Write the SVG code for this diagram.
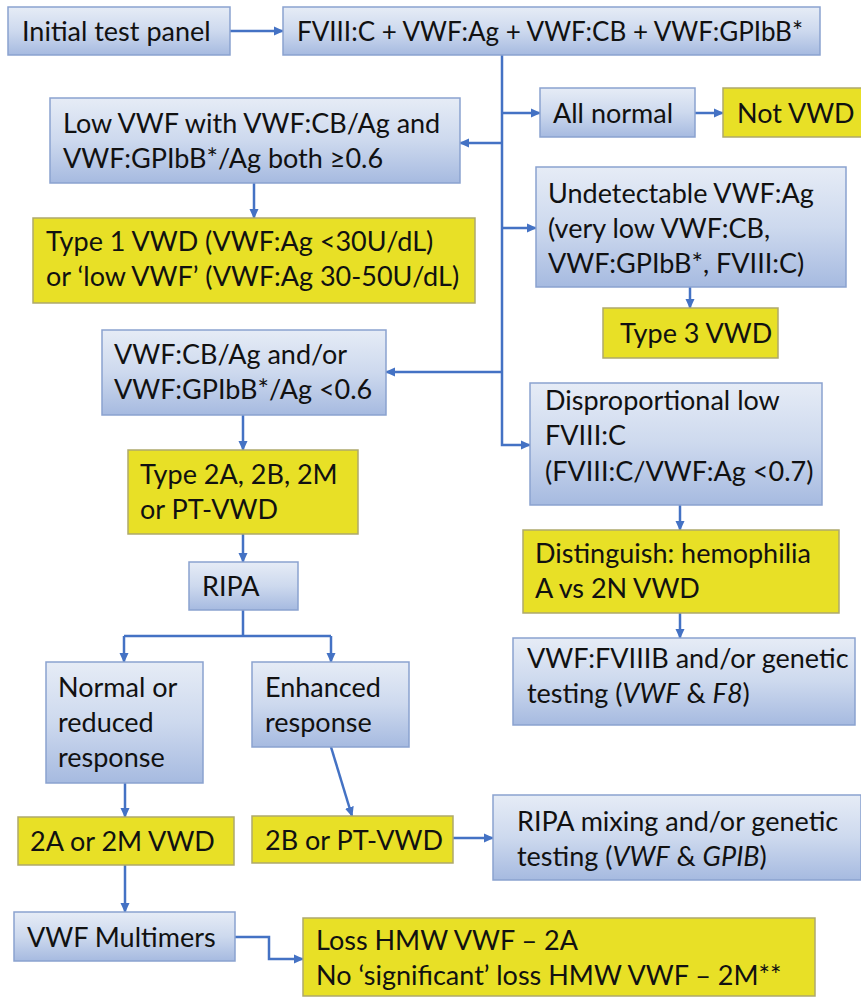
<svg xmlns="http://www.w3.org/2000/svg" width="861" height="1001" viewBox="0 0 861 1001">
  <defs>
    <linearGradient id="blueFill" x1="0" y1="0" x2="0" y2="1">
      <stop offset="0" stop-color="#e6ecf6"/>
      <stop offset="0.5" stop-color="#cdd9ee"/>
      <stop offset="1" stop-color="#a6bae0"/>
    </linearGradient>
    <marker id="arrow" markerUnits="userSpaceOnUse" markerWidth="10" markerHeight="10" viewBox="0 0 10 10" refX="9" refY="5" orient="auto">
      <path d="M0,0.5 L10,5 L0,9.5 Z" fill="#4472c4"/>
    </marker>
  </defs>
  <style>
    .blue { fill: url(#blueFill); stroke: #8aa2cf; stroke-width: 1.5; }
    .yellow { fill: #e8e026; stroke: #aea96c; stroke-width: 1.5; }
    text { font-family: Lato, "Open Sans", "Liberation Sans", sans-serif; font-size: 27px; fill: #111111; }
    .it { font-style: italic; }
    .conn { fill: none; stroke: #4472c4; stroke-width: 2.5; }
    .arr { marker-end: url(#arrow); }
  </style>
  <rect width="861" height="1001" fill="#ffffff"/>

  <!-- connectors -->
  <g id="connectors">
    <path class="conn arr" d="M230,31 H283"/>
    <path class="conn arr" d="M502,55 V445 H530"/>
    <path class="conn arr" d="M502,143 H460"/>
    <path class="conn arr" d="M502,113 H540"/>
    <path class="conn arr" d="M695,113 H723"/>
    <path class="conn arr" d="M502,228 H536"/>
    <path class="conn arr" d="M502,372 H386"/>
    <path class="conn arr" d="M254,183 V218"/>
    <path class="conn arr" d="M690,287 V308"/>
    <path class="conn arr" d="M680,505 V530"/>
    <path class="conn arr" d="M680,613 V638"/>
    <path class="conn arr" d="M243,415 V450"/>
    <path class="conn arr" d="M243,534 V562"/>
    <path class="conn" d="M243,610 V636 M124,636 H331"/>
    <path class="conn arr" d="M124,636 V662"/>
    <path class="conn arr" d="M331,636 V662"/>
    <path class="conn arr" d="M125,783 V817"/>
    <path class="conn arr" d="M331,747 L352,816"/>
    <path class="conn arr" d="M453,838 H493"/>
    <path class="conn arr" d="M125,865 V912"/>
    <path class="conn arr" d="M235,937 H269 V959 H303"/>
  </g>

  <g id="initial-panel">
    <rect class="blue" x="8" y="7" width="222" height="48"/>
    <text x="22" y="41">Initial test panel</text>
  </g>
  <g id="test-panel">
    <rect class="blue" x="283" y="7" width="537" height="48"/>
    <text x="297" y="41" style="font-size:26px">FVIII:C + VWF:Ag + VWF:CB + VWF:GPIbB*</text>
  </g>
  <g id="all-normal">
    <rect class="blue" x="540" y="88" width="155" height="49"/>
    <text x="553" y="123">All normal</text>
  </g>
  <g id="not-vwd">
    <rect class="yellow" x="723" y="88" width="145" height="49"/>
    <text x="737" y="123">Not VWD</text>
  </g>
  <g id="low-vwf">
    <rect class="blue" x="50" y="98" width="410" height="85"/>
    <text x="63" y="133">Low VWF with VWF:CB/Ag and</text>
    <text x="63" y="168">VWF:GPIbB*/Ag both ≥0.6</text>
  </g>
  <g id="type1">
    <rect class="yellow" x="33" y="218" width="442" height="85"/>
    <text x="46" y="251">Type 1 VWD (VWF:Ag &lt;30U/dL)</text>
    <text x="46" y="286">or ‘low VWF’ (VWF:Ag 30-50U/dL)</text>
  </g>
  <g id="undetectable">
    <rect class="blue" x="536" y="167" width="310" height="120"/>
    <text x="548" y="203">Undetectable VWF:Ag</text>
    <text x="548" y="238">(very low VWF:CB,</text>
    <text x="548" y="273">VWF:GPIbB*, FVIII:C)</text>
  </g>
  <g id="type3">
    <rect class="yellow" x="603" y="308" width="175" height="50"/>
    <text x="620" y="343">Type 3 VWD</text>
  </g>
  <g id="ratio-low">
    <rect class="blue" x="102" y="330" width="284" height="85"/>
    <text x="114" y="364">VWF:CB/Ag and/or</text>
    <text x="114" y="399">VWF:GPIbB*/Ag &lt;0.6</text>
  </g>
  <g id="disproportional">
    <rect class="blue" x="530" y="383" width="292" height="122"/>
    <text x="545" y="410">Disproportional low</text>
    <text x="545" y="445">FVIII:C</text>
    <text x="545" y="481">(FVIII:C/VWF:Ag &lt;0.7)</text>
  </g>
  <g id="type2">
    <rect class="yellow" x="128" y="450" width="230" height="84"/>
    <text x="140" y="484">Type 2A, 2B, 2M</text>
    <text x="140" y="519">or PT-VWD</text>
  </g>
  <g id="distinguish">
    <rect class="yellow" x="523" y="530" width="316" height="83"/>
    <text x="535" y="563">Distinguish: hemophilia</text>
    <text x="535" y="598">A vs 2N VWD</text>
  </g>
  <g id="ripa">
    <rect class="blue" x="189" y="562" width="109" height="48"/>
    <text x="202" y="596">RIPA</text>
  </g>
  <g id="fviiib">
    <rect class="blue" x="513" y="638" width="342" height="87"/>
    <text x="527" y="668">VWF:FVIIIB and/or genetic</text>
    <text x="527" y="703">testing (<tspan class="it">VWF</tspan> &amp; <tspan class="it">F8</tspan>)</text>
  </g>
  <g id="normal-reduced">
    <rect class="blue" x="46" y="662" width="157" height="121"/>
    <text x="58" y="697">Normal or</text>
    <text x="58" y="732">reduced</text>
    <text x="58" y="767">response</text>
  </g>
  <g id="enhanced">
    <rect class="blue" x="252" y="662" width="157" height="85"/>
    <text x="265" y="697">Enhanced</text>
    <text x="265" y="732">response</text>
  </g>
  <g id="type2a-2m">
    <rect class="yellow" x="18" y="817" width="216" height="48"/>
    <text x="30" y="851">2A or 2M VWD</text>
  </g>
  <g id="type2b-pt">
    <rect class="yellow" x="252" y="816" width="201" height="47"/>
    <text x="265" y="850">2B or PT-VWD</text>
  </g>
  <g id="ripa-mixing">
    <rect class="blue" x="493" y="795" width="368" height="85"/>
    <text x="517" y="831">RIPA mixing and/or genetic</text>
    <text x="517" y="866">testing (<tspan class="it">VWF</tspan> &amp; <tspan class="it">GPIB</tspan>)</text>
  </g>
  <g id="multimers">
    <rect class="blue" x="14" y="912" width="221" height="49"/>
    <text x="27" y="947">VWF Multimers</text>
  </g>
  <g id="multimer-result">
    <rect class="yellow" x="303" y="918" width="512" height="78"/>
    <text x="316" y="950">Loss HMW VWF – 2A</text>
    <text x="316" y="985">No ‘significant’ loss HMW VWF – 2M**</text>
  </g>
</svg>
